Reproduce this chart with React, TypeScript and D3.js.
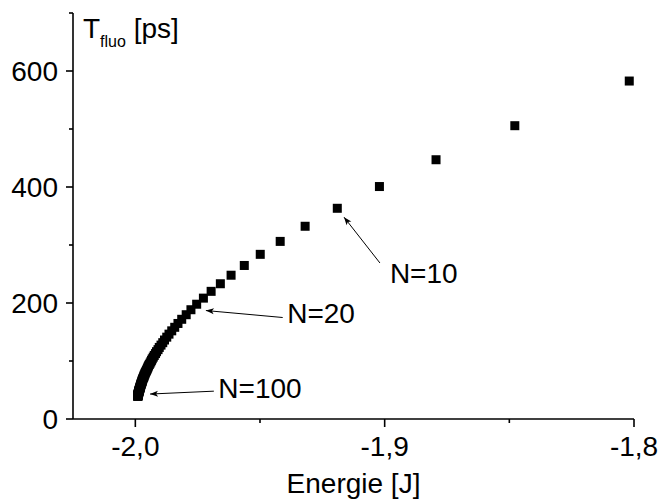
import React from "react";
import * as d3 from "d3";

// Chain length N = 6 ... 100
const chainN: number[] = d3.range(6, 101);

// Energy [J] per chain length
const energies: number[] = [
  -1.8019, -1.8478, -1.8794, -1.9021, -1.9190, -1.9319, -1.9419, -1.9499, -1.9563, -1.9616,
  -1.9659, -1.9696, -1.9727, -1.9754, -1.9777, -1.9796, -1.9814, -1.9829, -1.9842, -1.9854,
  -1.9865, -1.9874, -1.9883, -1.9890, -1.9897, -1.9904, -1.9909, -1.9915, -1.9919, -1.9924,
  -1.9928, -1.9932, -1.9935, -1.9938, -1.9941, -1.9944, -1.9947, -1.9949, -1.9951, -1.9953,
  -1.9955, -1.9957, -1.9959, -1.9961, -1.9962, -1.9964, -1.9965, -1.9966, -1.9967, -1.9969,
  -1.9970, -1.9971, -1.9972, -1.9973, -1.9973, -1.9974, -1.9975, -1.9976, -1.9977, -1.9977,
  -1.9978, -1.9979, -1.9979, -1.9980, -1.9980, -1.9981, -1.9981, -1.9982, -1.9982, -1.9983,
  -1.9983, -1.9984, -1.9984, -1.9985, -1.9985, -1.9985, -1.9986, -1.9986, -1.9986, -1.9987,
  -1.9987, -1.9987, -1.9988, -1.9988, -1.9988, -1.9988, -1.9989, -1.9989, -1.9989, -1.9989,
  -1.9990, -1.9990, -1.9990, -1.9990, -1.9990,
];

// Fluorescence lifetime [ps] per chain length
const lifetimes: number[] = [
  582.7, 505.7, 447.0, 400.8, 363.3, 332.3, 306.2, 283.9, 264.7, 247.9,
  233.2, 220.1, 208.4, 197.9, 188.4, 179.8, 171.9, 164.7, 158.1, 152.0,
  146.3, 141.1, 136.2, 131.6, 127.4, 123.4, 119.6, 116.1, 112.8, 109.6,
  106.7, 103.8, 101.2, 98.6, 96.2, 93.9, 91.7, 89.7, 87.7, 85.8,
  83.9, 82.2, 80.5, 78.9, 77.3, 75.8, 74.4, 73.0, 71.7, 70.4,
  69.2, 68.0, 66.8, 65.7, 64.6, 63.6, 62.6, 61.6, 60.7, 59.7,
  58.9, 58.0, 57.1, 56.3, 55.5, 54.8, 54.0, 53.3, 52.6, 51.9,
  51.2, 50.5, 49.9, 49.3, 48.7, 48.1, 47.5, 46.9, 46.4, 45.8,
  45.3, 44.8, 44.3, 43.8, 43.3, 42.9, 42.4, 41.9, 41.5, 41.1,
  40.6, 40.2, 39.8, 39.4, 39.0,
];

const xMajorTicks: number[] = [-2.0, -1.9, -1.8];
const xMinorTicks: number[] = [-1.95, -1.85];
const yMajorTicks: number[] = [0, 200, 400, 600];
const yMinorTicks: number[] = [100, 300, 500, 700];

const xDomain: [number, number] = [-2.025, -1.8];
const yDomain: [number, number] = [0, 700];

// Annotations: label, arrow tip, arrow tail, text anchor (data units)
const annLabels: string[] = ["N=10", "N=20", "N=100"];
const annTip: [number, number][] = [[-1.9163, 348], [-1.9717, 187], [-1.9941, 43]];
const annTail: [number, number][] = [[-1.9019, 269], [-1.9409, 175], [-1.9685, 48]];
const annText: [number, number][] = [[-1.8979, 234], [-1.9391, 165], [-1.9667, 36]];

const W = 660;
const H = 500;
const FONT = "'Liberation Sans', Arial, Helvetica, sans-serif";

export default function App() {
  const x = d3.scaleLinear().domain(xDomain).range([73, 634]);
  const y = d3.scaleLinear().domain(yDomain).range([419, 13]);
  const x0 = x.range()[0];
  const y0 = y.range()[0];
  const fmt = (v: number) => d3.format(".1f")(v).replace(".", ",").replace("−", "-");
  const sq = 9;

  return (
    <svg
      width={W}
      height={H}
      style={{ position: "absolute", left: 0, top: 0, background: "#fff" }}
      fontFamily={FONT}
    >
      <defs>
        <marker id="ah" viewBox="0 0 10 10" refX="10" refY="5" markerWidth="10" markerHeight="8" markerUnits="userSpaceOnUse" orient="auto">
          <path d="M0,1.2 L10,5 L0,8.8 L2.5,5 Z" fill="#000" />
        </marker>
      </defs>
      {/* points */}
      {chainN.map((n, i) => (
        <rect
          key={n}
          x={x(energies[i]) - sq / 2}
          y={y(lifetimes[i]) - sq / 2}
          width={sq}
          height={sq}
          fill="#000"
        />
      ))}
      {/* axes */}
      <line x1={x0} x2={x0} y1={y0} y2={y.range()[1]} stroke="#000" strokeWidth={1.6} />
      <line x1={x0} x2={x.range()[1]} y1={y0} y2={y0} stroke="#000" strokeWidth={1.6} />
      {yMajorTicks.map((t) => (
        <g key={"ym" + t}>
          <line x1={x0 - 7} x2={x0} y1={y(t)} y2={y(t)} stroke="#000" strokeWidth={1.6} />
          <text x={x0 - 15} y={y(t)} dy="0.36em" textAnchor="end" fontSize={28}>
            {t}
          </text>
        </g>
      ))}
      {yMinorTicks.map((t) => (
        <line key={"yn" + t} x1={x0 - 4} x2={x0} y1={y(t)} y2={y(t)} stroke="#000" strokeWidth={1.6} />
      ))}
      {xMajorTicks.map((t) => (
        <g key={"xm" + t}>
          <line x1={x(t)} x2={x(t)} y1={y0} y2={y0 + 8} stroke="#000" strokeWidth={1.6} />
          <text x={x(t)} y={y0 + 37} textAnchor="middle" fontSize={28}>
            {fmt(t)}
          </text>
        </g>
      ))}
      {xMinorTicks.map((t) => (
        <line key={"xn" + t} x1={x(t)} x2={x(t)} y1={y0} y2={y0 + 4} stroke="#000" strokeWidth={1.6} />
      ))}
      {/* axis titles */}
      <text x={(x.range()[0] + x.range()[1]) / 2} y={493} textAnchor="middle" fontSize={28}>
        Energie [J]
      </text>
      <text x={x0 + 10} y={38} fontSize={28}>
        T
        <tspan fontSize={16} dy={9}>fluo</tspan>
        <tspan dy={-9}> [ps]</tspan>
      </text>
      {/* annotations */}
      {annLabels.map((lab, i) => (
        <g key={lab}>
          <line
            x1={x(annTail[i][0])}
            y1={y(annTail[i][1])}
            x2={x(annTip[i][0])}
            y2={y(annTip[i][1])}
            stroke="#000"
            strokeWidth={1}
            markerEnd="url(#ah)"
          />
          <text x={x(annText[i][0])} y={y(annText[i][1])} fontSize={28}>
            {lab}
          </text>
        </g>
      ))}
    </svg>
  );
}
